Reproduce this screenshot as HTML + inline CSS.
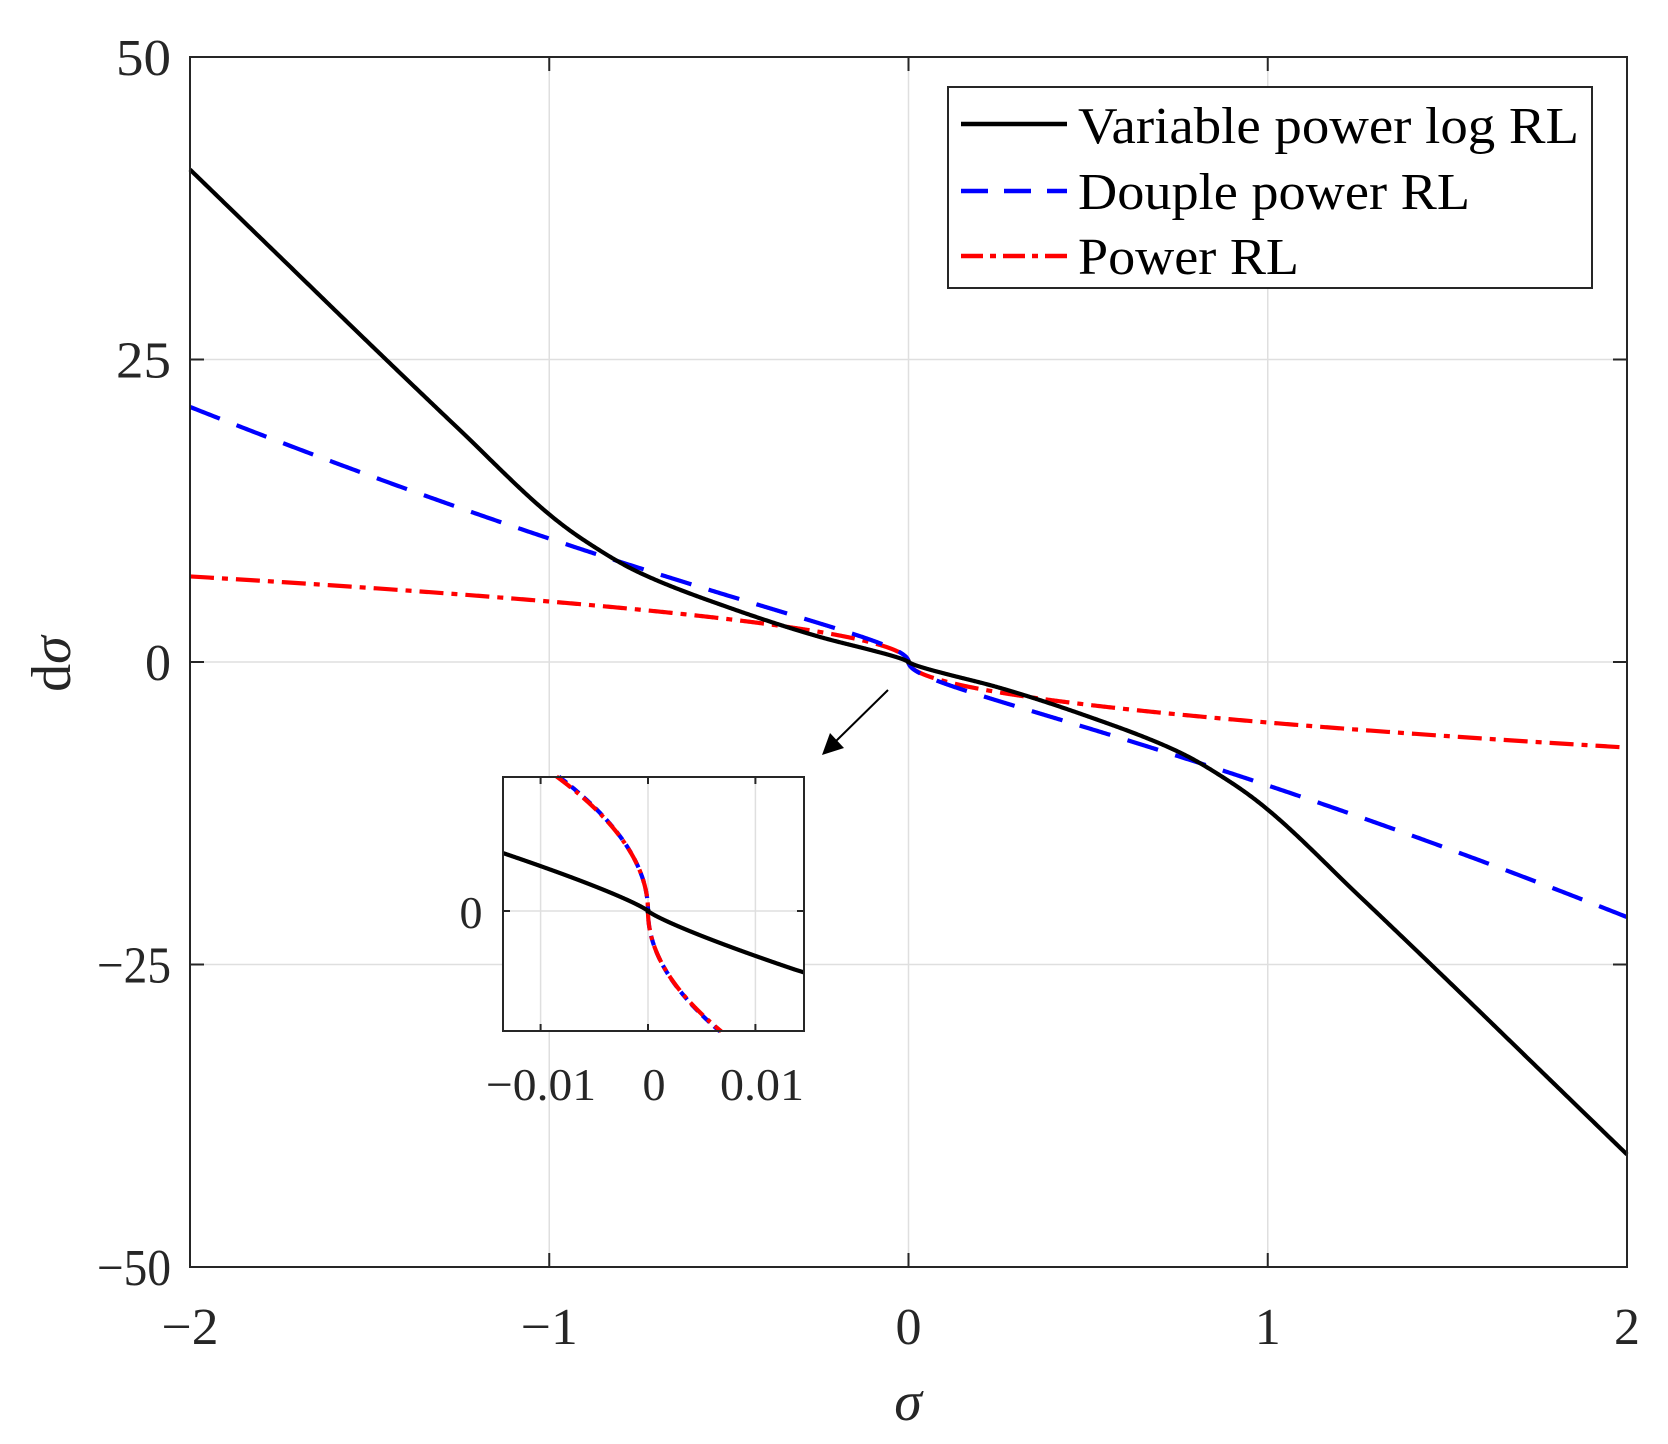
<!DOCTYPE html>
<html><head><meta charset="utf-8"><style>
html,body{margin:0;padding:0;background:#fff;}
svg{display:block;}
text{font-family:"Liberation Serif","DejaVu Serif",serif;fill:#262626;}
</style></head><body>
<svg id="s" width="1668" height="1444" viewBox="0 0 1668 1444" xmlns="http://www.w3.org/2000/svg">
<rect width="1668" height="1444" fill="#fff"/>
<g id="grid" stroke="#dfdfdf" stroke-width="1.5"></g>
<g id="curves" fill="none" stroke-width="4.2"></g>
<rect x="190" y="57" width="1437" height="1210" fill="none" stroke="#262626" stroke-width="2"/>
<g id="ticks" stroke="#262626" stroke-width="2"></g>
<g id="labels" font-size="52"></g>
<text x="908" y="1420" font-size="56" font-style="italic" text-anchor="middle">σ</text>
<text transform="translate(70,664) rotate(-90)" font-size="56" text-anchor="middle">d<tspan font-style="italic">σ</tspan></text>
<!-- legend -->
<rect x="948" y="87" width="644" height="201" fill="#fff" stroke="#262626" stroke-width="2"/>
<line x1="961" y1="124" x2="1067" y2="124" stroke="#000" stroke-width="4.5"/>
<line x1="961" y1="191" x2="1067" y2="191" stroke="#0000ff" stroke-width="4.5" stroke-dasharray="27,16"/>
<line x1="961" y1="256" x2="1067" y2="256" stroke="#ff0000" stroke-width="4.5" stroke-dasharray="22,7,6,7"/>
<text x="1078" y="143" font-size="52" style="fill:#000" textLength="501" lengthAdjust="spacingAndGlyphs">Variable power log RL</text>
<text x="1078" y="209" font-size="52" style="fill:#000" textLength="392" lengthAdjust="spacingAndGlyphs">Douple power RL</text>
<text x="1078" y="274" font-size="52" style="fill:#000" textLength="221" lengthAdjust="spacingAndGlyphs">Power RL</text>
<!-- arrow -->
<line x1="888" y1="690" x2="834" y2="743" stroke="#000" stroke-width="2"/>
<polygon points="822,755 830,733 844,748" fill="#000"/>
<!-- inset -->
<rect x="503" y="777" width="301" height="254" fill="#fff"/>
<g id="igrid" stroke="#dfdfdf" stroke-width="1.5"></g>
<g id="icurves" fill="none" stroke-width="4.2"></g>
<rect x="503" y="777" width="301" height="254" fill="none" stroke="#262626" stroke-width="2"/>
<g id="iticks" stroke="#262626" stroke-width="2"></g>
<g font-size="46">
<text x="471" y="928" text-anchor="middle">0</text>
<text x="541" y="1100" text-anchor="middle" textLength="110" lengthAdjust="spacingAndGlyphs">−0.01</text>
<text x="654" y="1100" text-anchor="middle">0</text>
<text x="762" y="1100" text-anchor="middle" textLength="84" lengthAdjust="spacingAndGlyphs">0.01</text>
</g>
</svg>
<script>
const NS="http://www.w3.org/2000/svg";
function el(p,t,a){const e=document.createElementNS(NS,t);for(const k in a)e.setAttribute(k,a[k]);document.getElementById(p).appendChild(e);return e;}
const L=190,R=1627,T=57,B=1267;
const X=x=>L+(x+2)/4*(R-L), Y=y=>T+(50-y)/100*(B-T);
const sg=x=>x<0?-1:(x>0?1:0);
// monotone cubic for black
const KX=[0,0.0136,0.05,0.1,0.25,0.5,0.75,0.9,1,1.25,1.5,1.75,2];
const KY=[0,0.2,0.55,0.95,2.1,4.5,7.4,10,12.2,19.2,26.3,33.5,40.7];
const n=KX.length,dk=[],m=[];
for(let i=0;i<n-1;i++)dk.push((KY[i+1]-KY[i])/(KX[i+1]-KX[i]));
m[0]=dk[0];m[n-1]=dk[n-2];
for(let i=1;i<n-1;i++){m[i]=(dk[i-1]*dk[i]<=0)?0:2/(1/dk[i-1]+1/dk[i]);}
function interp(a){if(a<=KX[1])return 0.2*Math.pow(a/0.0136,0.85);
 let i=1;while(i<n-2&&a>KX[i+1])i++;const h=KX[i+1]-KX[i],t=(a-KX[i])/h;
 const h00=2*t*t*t-3*t*t+1,h10=t*t*t-2*t*t+t,h01=-2*t*t*t+3*t*t,h11=t*t*t-t*t;
 return h00*KY[i]+h10*h*m[i]+h01*KY[i+1]+h11*h*m[i+1];}
const fk=x=>-sg(x)*interp(Math.abs(x));
const fb=x=>-sg(x)*(5*Math.sqrt(Math.abs(x))+5.2*Math.pow(Math.abs(x),1.43));
const fr=x=>-sg(x)*5*Math.sqrt(Math.abs(x));
const lab=v=>(v<0?"−":"")+Math.abs(v);
for(const x of [-1,0,1]){el("grid","line",{x1:X(x),y1:T,x2:X(x),y2:B});}
for(const y of [25,0,-25]){el("grid","line",{x1:L,y1:Y(y),x2:R,y2:Y(y)});}
for(const x of [-2,-1,0,1,2]){el("ticks","line",{x1:X(x),y1:B,x2:X(x),y2:B-14});el("ticks","line",{x1:X(x),y1:T,x2:X(x),y2:T+14});
 const a={x:X(x),y:1344,"text-anchor":"middle"};if(x<0){a.textLength=57;a.lengthAdjust="spacingAndGlyphs";}
 const t=el("labels","text",a);t.textContent=lab(x);}
for(const y of [50,25,0,-25,-50]){el("ticks","line",{x1:L,y1:Y(y),x2:L+14,y2:Y(y)});el("ticks","line",{x1:R,y1:Y(y),x2:R-14,y2:Y(y)});
 const a={x:171,y:Y(y)+18,"text-anchor":"end"};if(y!==0){a.textLength=(y<0?74:55);a.lengthAdjust="spacingAndGlyphs";}
 const t=el("labels","text",a);t.textContent=lab(y);}
function path2(f,Xf,Yf,xs,clip){let d="";let s=false;for(const x of xs){const py=Yf(f(x));if(clip&&(py<clip[0]-0.5||py>clip[1]+0.5)){s=false;continue;}d+=(s?"L":"M")+Xf(x).toFixed(2)+","+py.toFixed(2);s=true;}return d;}
const xs=[];for(let i=0;i<=2000;i++){const t=-1+2*i/2000;xs.push(sg(t)*Math.pow(Math.abs(t),3)*2);}
el("curves","path",{d:path2(fr,X,Y,xs),stroke:"#ff0000","stroke-dasharray":"24,8,6,8"});
el("curves","path",{d:path2(fb,X,Y,xs),stroke:"#0000ff","stroke-dasharray":"32,18"});
el("curves","path",{d:path2(fk,X,Y,xs),stroke:"#000"});
const iL=503,iR=804,iT=777,iB=1031;
const IX=x=>648+x*10740, IY=y=>911-y*291.5;
for(const x of [-0.01,0,0.01]){el("igrid","line",{x1:IX(x),y1:iT,x2:IX(x),y2:iB});el("iticks","line",{x1:IX(x),y1:iB,x2:IX(x),y2:iB-7});el("iticks","line",{x1:IX(x),y1:iT,x2:IX(x),y2:iT+7});}
el("igrid","line",{x1:iL,y1:IY(0),x2:iR,y2:IY(0)});
el("iticks","line",{x1:iL,y1:IY(0),x2:iL+7,y2:IY(0)});el("iticks","line",{x1:iR,y1:IY(0),x2:iR-7,y2:IY(0)});
const ixs=[];for(let i=0;i<=3000;i++){const t=-1+2*i/3000;ixs.push(sg(t)*Math.pow(Math.abs(t),2)*0.0145);}
const ixf=ixs.filter(x=>x>=-0.0135&&x<=0.0145);
el("icurves","path",{d:path2(fb,IX,IY,ixf,[iT,iB]),stroke:"#0000ff","stroke-dasharray":"10,6"});
el("icurves","path",{d:path2(fr,IX,IY,ixf,[iT,iB]),stroke:"#ff0000","stroke-dasharray":"18,6,4,6"});
el("icurves","path",{d:path2(fk,IX,IY,ixf,[iT,iB]),stroke:"#000"});
</script>
</body></html>
